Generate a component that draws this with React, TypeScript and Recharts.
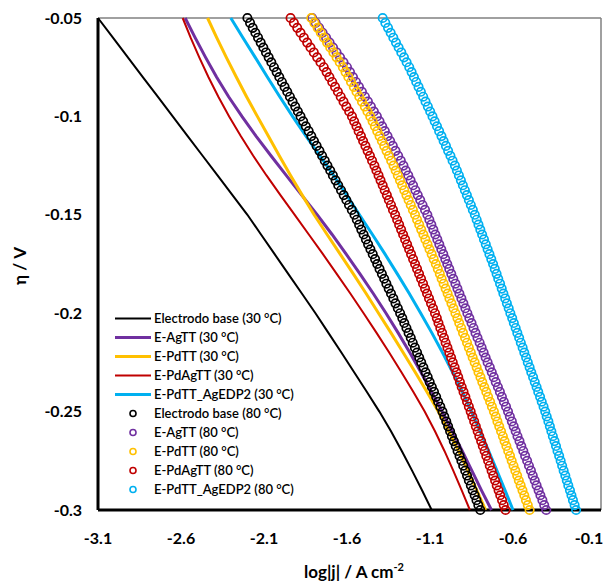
import { ScatterChart, Scatter, XAxis, YAxis, ReferenceLine, Legend, Label } from "recharts";

// overpotential levels (V)
const etaCold = [
  -0.05, -0.06, -0.07, -0.08, -0.09, -0.1, -0.11, -0.12, -0.13, -0.14, -0.15, -0.16, -0.17,
  -0.18, -0.19, -0.2, -0.21, -0.22, -0.23, -0.24, -0.25, -0.26, -0.27, -0.28, -0.29, -0.3,
];

const etaHot = [
  -0.05, -0.0525, -0.055, -0.0575, -0.06, -0.0625, -0.065, -0.0675, -0.07, -0.0725, -0.075,
  -0.0775, -0.08, -0.0825, -0.085, -0.0875, -0.09, -0.0925, -0.095, -0.0975, -0.1,
  -0.1025, -0.105, -0.1075, -0.11, -0.1125, -0.115, -0.1175, -0.12, -0.1225, -0.125,
  -0.1275, -0.13, -0.1325, -0.135, -0.1375, -0.14, -0.1425, -0.145, -0.1475, -0.15,
  -0.1525, -0.155, -0.1575, -0.16, -0.1625, -0.165, -0.1675, -0.17, -0.1725, -0.175,
  -0.1775, -0.18, -0.1825, -0.185, -0.1875, -0.19, -0.1925, -0.195, -0.1975, -0.2,
  -0.2025, -0.205, -0.2075, -0.21, -0.2125, -0.215, -0.2175, -0.22, -0.2225, -0.225,
  -0.2275, -0.23, -0.2325, -0.235, -0.2375, -0.24, -0.2425, -0.245, -0.2475, -0.25,
  -0.2525, -0.255, -0.2575, -0.26, -0.2625, -0.265, -0.2675, -0.27, -0.2725, -0.275,
  -0.2775, -0.28, -0.2825, -0.285, -0.2875, -0.29, -0.2925, -0.295, -0.2975, -0.3,
];

// log|j| at 30 °C (lines)
const baseCold = [
  -3.1, -3.01, -2.92, -2.83, -2.74, -2.65, -2.56, -2.47, -2.38, -2.29, -2.2, -2.118, -2.036,
  -1.954, -1.872, -1.79, -1.712, -1.634, -1.557, -1.48, -1.405, -1.335, -1.27, -1.208, -1.148, -1.09,
];
const agCold = [
  -2.575, -2.515, -2.452, -2.386, -2.313, -2.233, -2.148, -2.058, -1.966, -1.873, -1.78, -1.69, -1.605,
  -1.522, -1.442, -1.365, -1.292, -1.222, -1.155, -1.09, -1.027, -0.966, -0.906, -0.848, -0.79, -0.73,
];
const pdCold = [
  -2.44, -2.385, -2.327, -2.267, -2.205, -2.14, -2.074, -2.008, -1.94, -1.87, -1.798, -1.72, -1.641,
  -1.562, -1.485, -1.41, -1.335, -1.262, -1.189, -1.118, -1.05, -0.988, -0.928, -0.872, -0.818, -0.765,
];
const pdAgCold = [
  -2.59, -2.542, -2.49, -2.435, -2.375, -2.31, -2.24, -2.165, -2.085, -2.001, -1.915, -1.83, -1.745,
  -1.662, -1.58, -1.5, -1.422, -1.346, -1.272, -1.2, -1.132, -1.07, -1.013, -0.96, -0.909, -0.86,
];
const edpCold = [
  -2.3, -2.227, -2.153, -2.08, -2.005, -1.928, -1.847, -1.763, -1.681, -1.602, -1.525, -1.447, -1.371,
  -1.297, -1.225, -1.156, -1.089, -1.025, -0.964, -0.905, -0.85, -0.798, -0.747, -0.697, -0.648, -0.6,
];

// log|j| at 80 °C (open circles)
const baseHot = [
  -2.2, -2.184, -2.168, -2.152, -2.136, -2.12, -2.104, -2.088, -2.072, -2.056, -2.04,
  -2.024, -2.008, -1.992, -1.976, -1.96, -1.944, -1.928, -1.912, -1.896, -1.88,
  -1.864, -1.848, -1.831, -1.815, -1.799, -1.783, -1.766, -1.75, -1.734, -1.718,
  -1.701, -1.685, -1.669, -1.653, -1.636, -1.62, -1.604, -1.588, -1.571, -1.555,
  -1.541, -1.527, -1.514, -1.5, -1.486, -1.473, -1.459, -1.445, -1.431, -1.418,
  -1.404, -1.39, -1.376, -1.363, -1.349, -1.335, -1.321, -1.308, -1.294, -1.28,
  -1.267, -1.255, -1.242, -1.229, -1.216, -1.204, -1.191, -1.178, -1.165, -1.153,
  -1.14, -1.127, -1.114, -1.102, -1.089, -1.076, -1.063, -1.051, -1.038, -1.025,
  -1.014, -1.002, -0.991, -0.979, -0.968, -0.957, -0.945, -0.934, -0.922, -0.911,
  -0.9, -0.888, -0.877, -0.866, -0.854, -0.843, -0.831, -0.82, -0.809, -0.797,
];
const agHot = [
  -1.81, -1.789, -1.768, -1.747, -1.726, -1.705, -1.684, -1.663, -1.642, -1.621, -1.6,
  -1.582, -1.564, -1.546, -1.528, -1.51, -1.492, -1.474, -1.456, -1.438, -1.42,
  -1.404, -1.388, -1.372, -1.356, -1.34, -1.324, -1.308, -1.292, -1.276, -1.26,
  -1.246, -1.231, -1.217, -1.202, -1.188, -1.174, -1.159, -1.145, -1.13, -1.116,
  -1.104, -1.092, -1.08, -1.068, -1.056, -1.044, -1.032, -1.02, -1.008, -0.996,
  -0.984, -0.972, -0.96, -0.947, -0.935, -0.923, -0.911, -0.899, -0.887, -0.875,
  -0.863, -0.85, -0.838, -0.826, -0.814, -0.801, -0.789, -0.777, -0.765, -0.753,
  -0.74, -0.728, -0.716, -0.704, -0.691, -0.679, -0.667, -0.655, -0.642, -0.63,
  -0.619, -0.607, -0.596, -0.584, -0.573, -0.561, -0.55, -0.538, -0.527, -0.515,
  -0.504, -0.492, -0.481, -0.469, -0.458, -0.446, -0.435, -0.423, -0.412, -0.4,
];
const pdHot = [
  -1.815, -1.796, -1.777, -1.758, -1.739, -1.72, -1.701, -1.682, -1.663, -1.644, -1.625,
  -1.609, -1.592, -1.576, -1.559, -1.543, -1.526, -1.51, -1.493, -1.477, -1.46,
  -1.446, -1.432, -1.418, -1.404, -1.39, -1.376, -1.362, -1.348, -1.334, -1.32,
  -1.307, -1.294, -1.281, -1.268, -1.255, -1.242, -1.229, -1.216, -1.203, -1.19,
  -1.178, -1.165, -1.153, -1.14, -1.128, -1.115, -1.103, -1.09, -1.078, -1.065,
  -1.053, -1.041, -1.03, -1.018, -1.006, -0.994, -0.983, -0.971, -0.959, -0.947,
  -0.935, -0.924, -0.912, -0.901, -0.889, -0.877, -0.866, -0.854, -0.843, -0.831,
  -0.819, -0.808, -0.796, -0.785, -0.773, -0.761, -0.75, -0.738, -0.727, -0.715,
  -0.704, -0.694, -0.683, -0.672, -0.661, -0.651, -0.64, -0.629, -0.618, -0.608,
  -0.597, -0.586, -0.575, -0.565, -0.554, -0.543, -0.532, -0.522, -0.511, -0.5,
];
const pdAgHot = [
  -1.94, -1.92, -1.9, -1.88, -1.86, -1.84, -1.82, -1.8, -1.78, -1.76, -1.74,
  -1.723, -1.706, -1.689, -1.672, -1.655, -1.638, -1.621, -1.604, -1.587, -1.57,
  -1.557, -1.543, -1.53, -1.516, -1.503, -1.489, -1.476, -1.462, -1.449, -1.435,
  -1.423, -1.41, -1.398, -1.385, -1.373, -1.36, -1.348, -1.335, -1.323, -1.31,
  -1.298, -1.286, -1.274, -1.262, -1.25, -1.238, -1.226, -1.214, -1.202, -1.19,
  -1.178, -1.166, -1.154, -1.142, -1.13, -1.118, -1.106, -1.094, -1.082, -1.07,
  -1.059, -1.049, -1.038, -1.027, -1.016, -1.006, -0.995, -0.984, -0.973, -0.963,
  -0.952, -0.941, -0.93, -0.92, -0.909, -0.898, -0.887, -0.877, -0.866, -0.855,
  -0.845, -0.834, -0.824, -0.813, -0.803, -0.792, -0.782, -0.771, -0.761, -0.75,
  -0.74, -0.729, -0.719, -0.708, -0.698, -0.687, -0.677, -0.666, -0.656, -0.645,
];
const edpHot = [
  -1.385, -1.369, -1.353, -1.337, -1.321, -1.305, -1.289, -1.273, -1.257, -1.241, -1.225,
  -1.211, -1.197, -1.183, -1.169, -1.155, -1.141, -1.127, -1.113, -1.099, -1.085,
  -1.072, -1.058, -1.045, -1.031, -1.018, -1.004, -0.991, -0.977, -0.964, -0.95,
  -0.938, -0.926, -0.914, -0.902, -0.89, -0.878, -0.866, -0.854, -0.842, -0.83,
  -0.819, -0.808, -0.797, -0.786, -0.775, -0.764, -0.753, -0.742, -0.731, -0.72,
  -0.71, -0.699, -0.689, -0.678, -0.668, -0.658, -0.647, -0.637, -0.626, -0.616,
  -0.605, -0.595, -0.584, -0.574, -0.563, -0.553, -0.542, -0.532, -0.521, -0.511,
  -0.5, -0.49, -0.479, -0.469, -0.458, -0.448, -0.437, -0.427, -0.416, -0.406,
  -0.397, -0.387, -0.378, -0.369, -0.36, -0.35, -0.341, -0.332, -0.322, -0.313,
  -0.304, -0.295, -0.285, -0.276, -0.267, -0.257, -0.248, -0.239, -0.229, -0.22,
];

const xTicks = [-3.1, -2.6, -2.1, -1.6, -1.1, -0.6, -0.1];
const yTicks = [-0.3, -0.25, -0.2, -0.15, -0.1, -0.05];
// plot frame runs a little past the last labelled tick
const xDomain = [-3.1, -0.07];
const yDomain = [-0.3, -0.05];

const FONT = "Lato, 'Open Sans', sans-serif";

type Pt = { x: number; y: number };
const toPoints = (xs: number[], etas: number[]): Pt[] => xs.map((x, i) => ({ x, y: etas[i] }));

const coldSeries = [
  { name: "Electrodo base (30 °C)", color: "#000000", width: 2, values: baseCold },
  { name: "E-AgTT (30 °C)", color: "#7030A0", width: 3, values: agCold },
  { name: "E-PdTT (30 °C)", color: "#FFC000", width: 3, values: pdCold },
  { name: "E-PdAgTT (30 °C)", color: "#C00000", width: 2, values: pdAgCold },
  { name: "E-PdTT_AgEDP2 (30 °C)", color: "#00B0F0", width: 3, values: edpCold },
];

const hotSeries = [
  { name: "Electrodo base (80 °C)", color: "#000000", values: baseHot },
  { name: "E-AgTT (80 °C)", color: "#7030A0", values: agHot },
  { name: "E-PdTT (80 °C)", color: "#FFC000", values: pdHot },
  { name: "E-PdAgTT (80 °C)", color: "#C00000", values: pdAgHot },
  { name: "E-PdTT_AgEDP2 (80 °C)", color: "#00B0F0", values: edpHot },
];

const noDot = () => <g />;

const ring = (color: string) => (props: any) => (
  <circle cx={props.cx} cy={props.cy} r={4.2} fill="none" stroke={color} strokeWidth={1.7} />
);

// keep the last x label inside the page edge
const XTick = (props: any) => {
  const { x, y, payload } = props;
  return (
    <text
      x={Math.min(x, 589)}
      y={y}
      dy="0.71em"
      textAnchor="middle"
      fill="#000"
      fontSize={16}
      fontWeight={700}
      fontFamily={FONT}
    >
      {payload.value}
    </text>
  );
};

function LegendBox() {
  const row = { display: "flex", alignItems: "center", height: 19 } as const;
  return (
    <div style={{ fontFamily: FONT, fontSize: 13, fontWeight: 600, color: "#000", lineHeight: "19px" }}>
      {coldSeries.map((s) => (
        <div key={s.name} style={row}>
          <svg width={39} height={19}>
            <line x1={0} x2={36} y1={9.5} y2={9.5} stroke={s.color} strokeWidth={s.width} />
          </svg>
          <span>{s.name}</span>
        </div>
      ))}
      {hotSeries.map((s) => (
        <div key={s.name} style={row}>
          <svg width={39} height={19}>
            <circle cx={18} cy={9.5} r={3} fill="none" stroke={s.color} strokeWidth={1.6} />
          </svg>
          <span>{s.name}</span>
        </div>
      ))}
    </div>
  );
}

export default function App() {
  return (
    <div style={{ position: "absolute", left: 0, top: 0, background: "#fff" }}>
      <ScatterChart width={604} height={583} margin={{ top: 18, right: 3, bottom: 0, left: 0 }}>
        <XAxis
          dataKey="x"
          type="number"
          domain={xDomain}
          ticks={xTicks}
          interval={0}
          tickLine={false}
          axisLine={{ stroke: "#000", strokeWidth: 3 }}
          tick={<XTick />}
          tickMargin={17}
          height={73}
        >
          <Label
            content={() => (
              <text x={354} y={578} textAnchor="middle" fontFamily={FONT} fontWeight={700} fontSize={17} fill="#000">
                <tspan>log|j| / A cm</tspan>
                <tspan dy={-7} fontSize={11}>-2</tspan>
              </text>
            )}
          />
        </XAxis>
        <YAxis
          dataKey="y"
          type="number"
          domain={yDomain}
          ticks={yTicks}
          interval={0}
          tickLine={false}
          axisLine={{ stroke: "#000", strokeWidth: 3 }}
          tick={{ fill: "#000", fontSize: 16, fontWeight: 700, fontFamily: FONT }}
          tickMargin={10}
          width={98}
        >
          <Label
            content={() => (
              <text
                x={19}
                y={266}
                transform="rotate(-90 19 266)"
                textAnchor="middle"
                dominantBaseline="central"
                fontFamily={FONT}
                fontWeight={700}
                fontSize={17}
                fill="#000"
              >
                η / V
              </text>
            )}
          />
        </YAxis>
        <ReferenceLine y={yDomain[1]} stroke="#808080" strokeWidth={1.5} />
        <ReferenceLine x={xDomain[1]} stroke="#808080" strokeWidth={1.5} />
        {coldSeries.map((s) => (
          <Scatter
            key={s.name}
            name={s.name}
            data={toPoints(s.values, etaCold)}
            line={{ stroke: s.color, strokeWidth: s.width }}
            shape={noDot}
            isAnimationActive={false}
          />
        ))}
        {hotSeries.map((s) => (
          <Scatter
            key={s.name}
            name={s.name}
            data={toPoints(s.values, etaHot)}
            shape={ring(s.color)}
            isAnimationActive={false}
          />
        ))}
        <Legend
          layout="vertical"
          align="center"
          verticalAlign="middle"
          content={() => <LegendBox />}
          wrapperStyle={{ position: "absolute", left: 115, top: 308.5, width: 260 }}
        />
      </ScatterChart>
    </div>
  );
}
